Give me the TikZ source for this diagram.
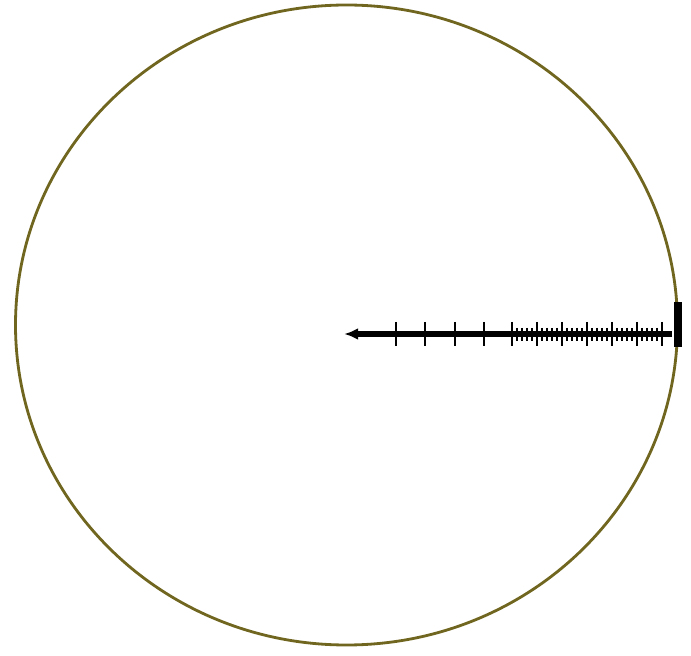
\documentclass[tikz,border=0pt]{standalone}
\usetikzlibrary{arrows.meta}
\definecolor{rimolive}{RGB}{112,102,32}
\tikzset{
  rim/.style={draw=rimolive, line width=2.4pt},
  shaft/.style={line width=5.2pt, -{Latex[length=12pt, width=10pt]}},
  majortick/.style={line width=1.1pt},
  minortick/.style={line width=0.9pt},
  endbar/.style={fill=black, draw=none}
}
\begin{document}
\begin{tikzpicture}[x=0.03cm, y=-0.03cm]
\useasboundingbox (0,0) rectangle (691,656);
% circle
\draw[rim] (346.5,325) ellipse [x radius=331, y radius=320];
% end bar
\fill[endbar] (674,302) rectangle (682,347);
\coordinate (start) at (672,334);
\coordinate (tip) at (344,334);
\draw[shaft] (start) -- (tip);
% major ticks
\foreach \x in {396,425,455,484,512,537,562,587,612,637,662}
  \draw[majortick] (\x,322) -- (\x,346);
% minor ticks
\foreach \x in {517,522,...,657}
  \draw[minortick] (\x,328) -- (\x,341);
\end{tikzpicture}
\end{document}
